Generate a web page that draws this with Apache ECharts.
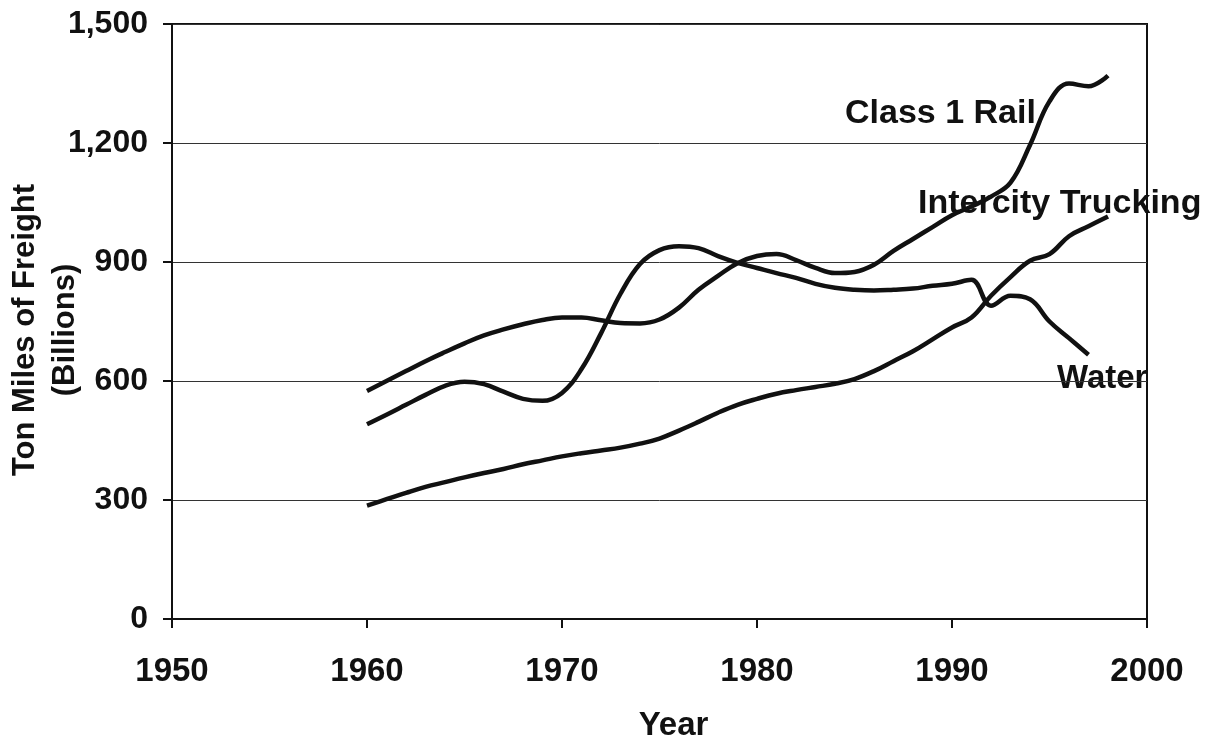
<!DOCTYPE html>
<html>
<head>
<meta charset="utf-8">
<script src="https://cdn.jsdelivr.net/npm/echarts@6/dist/echarts.min.js"></script>
<style>
  html, body { margin: 0; padding: 0; background: #fff; }
  #freightChart { width: 1220px; height: 741px; }
</style>
</head>
<body>
<div id="freightChart"></div>
<script>
// years of the annual readings
var years = [1960, 1961, 1962, 1963, 1964, 1965, 1966, 1967, 1968, 1969,
             1970, 1971, 1972, 1973, 1974, 1975, 1976, 1977, 1978, 1979,
             1980, 1981, 1982, 1983, 1984, 1985, 1986, 1987, 1988, 1989,
             1990, 1991, 1992, 1993, 1994, 1995, 1996, 1997, 1998];

// ton miles (billions)
var classOneRail = [575, 600, 625, 650, 673, 695, 715, 730, 743, 754,
                    760, 760, 753, 746, 745, 755, 785, 830, 865, 897,
                    915, 920, 905, 885, 872, 875, 893, 928, 958, 988,
                    1018, 1040, 1065, 1100, 1195, 1305, 1350, 1343, 1370];
var intercityTrucking = [286, 302, 318, 333, 345, 357, 368, 378, 390, 400,
                         410, 418, 425, 432, 442, 455, 475, 497, 520, 540,
                         555, 568, 577, 585, 593, 605, 625, 650, 675, 705,
                         735, 760, 815, 862, 903, 920, 965, 990, 1015];
var water = [491, 515, 540, 565, 588, 598, 592, 573, 555, 550,
             570, 630, 720, 820, 895, 930, 940, 935, 915, 898,
             885, 872, 860, 845, 835, 830, 828, 830, 833, 840,
             845, 855, 790, 815, 806, 750, 708, 666];

var yTicks = [0, 300, 600, 900, 1200, 1500];
var xTicks = [1950, 1960, 1970, 1980, 1990, 2000];

function pairs(vals) {
    var out = [];
    for (var i = 0; i < vals.length; i++) {
        out.push([years[i], vals[i]]);
    }
    return out;
}

var font = 'Liberation Sans, Arial, sans-serif';

var myChart = echarts.init(document.getElementById('freightChart'));
myChart.setOption({
    backgroundColor: '#ffffff',
    animation: false,
    grid: {
        left: 172,
        top: 24,
        right: 73,
        bottom: 122,
        outerBoundsMode: 'none',
        containLabel: false,
        show: true,
        borderColor: '#111',
        borderWidth: 2
    },
    xAxis: {
        type: 'value',
        min: xTicks[0],
        max: xTicks[xTicks.length - 1],
        interval: 10,
        name: 'Year',
        nameLocation: 'middle',
        nameGap: 90,
        nameTextStyle: { fontFamily: font, fontWeight: 'bold', fontSize: 33, color: '#111', padding: [0, 0, 0, 28] },
        axisLine: { lineStyle: { color: '#111', width: 2 } },
        axisTick: { show: true, length: 9, lineStyle: { color: '#111', width: 2 } },
        axisLabel: {
            margin: 36,
            fontFamily: font, fontWeight: 'bold', fontSize: 33, color: '#111',
            formatter: function (v) { return String(v); }
        },
        splitLine: { show: false }
    },
    yAxis: {
        type: 'value',
        min: yTicks[0],
        max: yTicks[yTicks.length - 1],
        interval: 300,
        axisLine: { show: true, lineStyle: { color: '#111', width: 2 } },
        axisTick: { show: true, length: 9, lineStyle: { color: '#111', width: 2 } },
        axisLabel: {
            margin: 24,
            fontFamily: font, fontWeight: 'bold', fontSize: 32, color: '#111',
            formatter: function (v) { return v.toLocaleString('en-US'); }
        },
        splitLine: { show: true, lineStyle: { color: '#333', width: 1 } }
    },
    series: [
        {
            name: 'Class 1 Rail',
            type: 'line',
            smooth: 0.4,
            showSymbol: false,
            lineStyle: { color: '#111', width: 4.5 },
            data: pairs(classOneRail)
        },
        {
            name: 'Intercity Trucking',
            type: 'line',
            smooth: 0.4,
            showSymbol: false,
            lineStyle: { color: '#111', width: 4.5 },
            data: pairs(intercityTrucking)
        },
        {
            name: 'Water',
            type: 'line',
            smooth: 0.4,
            showSymbol: false,
            lineStyle: { color: '#111', width: 4.5 },
            data: pairs(water)
        }
    ],
    graphic: [
        // y axis title, two lines turned on their side
        {
            type: 'text', x: 45, y: 330, rotation: Math.PI / 2,
            style: {
                text: 'Ton Miles of Freight\n(Billions)',
                font: 'bold 31px ' + font, fill: '#111',
                align: 'center', verticalAlign: 'middle', lineHeight: 40
            }
        },
        { type: 'text', left: 845, top: 97, style: { text: 'Class 1 Rail', font: 'bold 34px ' + font, fill: '#111' } },
        { type: 'text', left: 918, top: 187, style: { text: 'Intercity Trucking', font: 'bold 34px ' + font, fill: '#111' } },
        { type: 'text', left: 1057, top: 362, style: { text: 'Water', font: 'bold 33px ' + font, fill: '#111' } }
    ]
});
</script>
</body>
</html>
